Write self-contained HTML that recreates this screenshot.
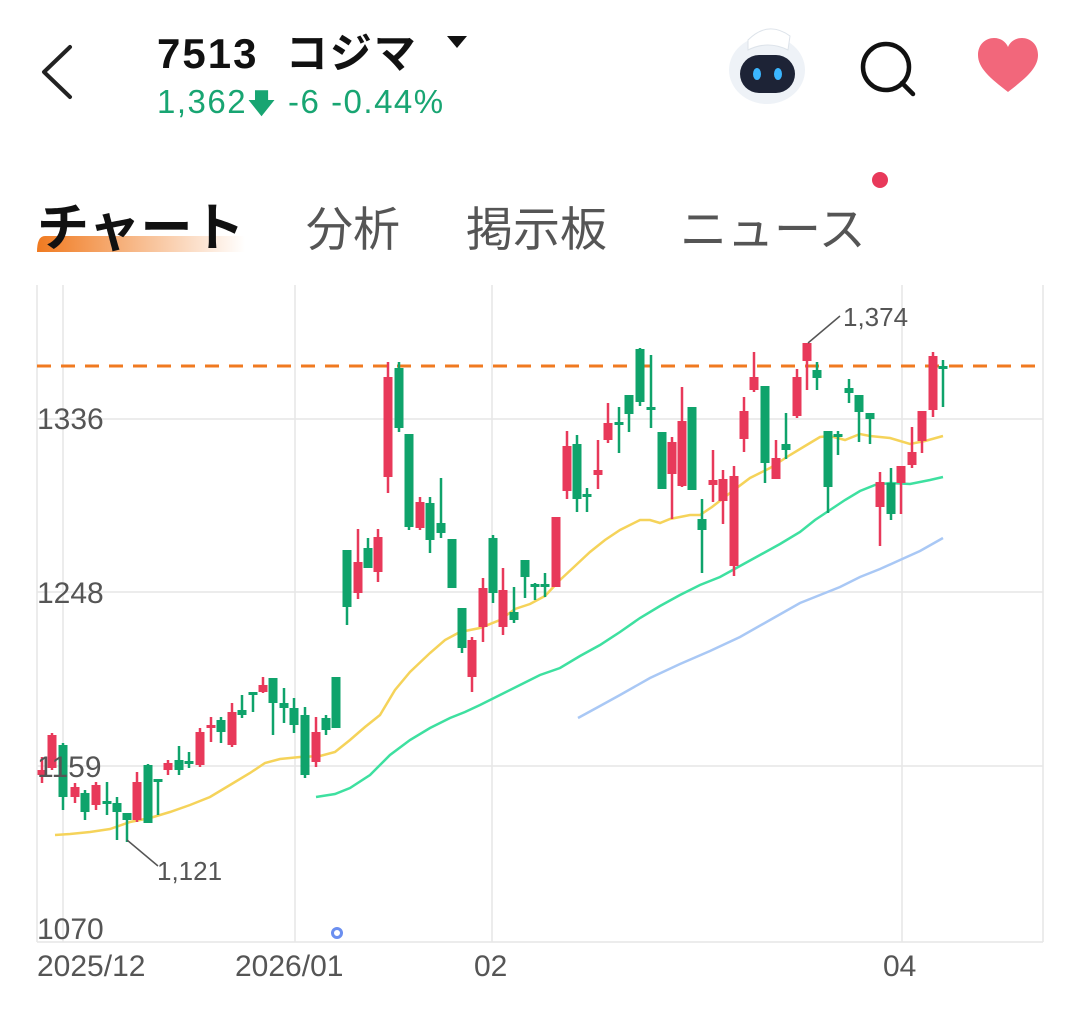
<!DOCTYPE html>
<html><head><meta charset="utf-8"><style>
html,body{margin:0;padding:0;background:#fff;}
body{width:1080px;height:1010px;overflow:hidden;position:relative;font-family:"Liberation Sans","Noto Sans CJK JP",sans-serif;}
.t{position:absolute;white-space:nowrap;}
</style></head><body>
<svg width="1080" height="1010" style="position:absolute;left:0;top:0">
<polyline points="70,47 44,72 70,97" fill="none" stroke="#222" stroke-width="4" stroke-linecap="round" stroke-linejoin="round"/>
<polygon points="447,36 467,36 457,48" fill="#111"/>
<g>
<ellipse cx="767" cy="70" rx="38" ry="34" fill="#eef2f7"/>
<path d="M748,40 Q768,20 790,36 L788,50 Q768,40 748,50Z" fill="#fff" stroke="#dde3ea"/>
<rect x="740" y="55" width="55" height="38" rx="19" fill="#1d2336"/>
<ellipse cx="757" cy="74" rx="4" ry="6" fill="#3bb6ff"/>
<ellipse cx="778" cy="74" rx="4" ry="6" fill="#3bb6ff"/>
</g>
<circle cx="886" cy="67" r="23" fill="none" stroke="#111" stroke-width="4.5"/>
<line x1="902" y1="83" x2="913" y2="94" stroke="#111" stroke-width="4.5" stroke-linecap="round"/>
<path d="M1008,92 C990,78 978,68 978,55 C978,44 986,38 994,38 C1001,38 1006,42 1008,47 C1010,42 1015,38 1022,38 C1030,38 1038,44 1038,55 C1038,68 1026,78 1008,92Z" fill="#f2677b"/>
<circle cx="880" cy="180" r="8" fill="#e8395a"/>
<defs><linearGradient id="ug" x1="0" x2="1"><stop offset="0" stop-color="#f07a20"/><stop offset="1" stop-color="#f07a20" stop-opacity="0"/></linearGradient></defs>
<path d="M45,236 L245,236 L245,252 L37,252 Q37,236 45,236Z" fill="url(#ug)"/>
<g stroke="#e6e6e6" stroke-width="1.5" fill="none">
<line x1="37" y1="285" x2="37" y2="942"/>
<line x1="1043" y1="285" x2="1043" y2="942"/>
<line x1="37" y1="942" x2="1043" y2="942"/>
<line x1="37" y1="419" x2="1043" y2="419"/>
<line x1="37" y1="592" x2="1043" y2="592"/>
<line x1="37" y1="766" x2="1043" y2="766"/>
<line x1="63" y1="285" x2="63" y2="942"/>
<line x1="295" y1="285" x2="295" y2="942"/>
<line x1="492" y1="285" x2="492" y2="942"/>
<line x1="902" y1="285" x2="902" y2="942"/>
</g>
<line x1="37" y1="366" x2="1043" y2="366" stroke="#f07a20" stroke-width="3" stroke-dasharray="14,10"/>
<polyline fill="none" stroke="#f5d35a" stroke-width="2.5" points="55,835 70,834 90,832 110,829 130,822 150,818 170,812 190,805 210,797 230,785 250,773 265,763 280,759 300,757 320,756 335,752 350,740 365,727 380,715 395,690 410,672 430,653 445,640 460,632 480,628 500,620 515,609 530,604 545,596 560,580 575,566 590,552 605,540 620,530 640,520 650,520 660,523 670,519 690,515 700,515 712,507 730,493 750,478 770,468 790,455 805,446 820,437 830,436 845,440 860,434 870,436 890,438 910,444 925,441 943,436"/>
<polyline fill="none" stroke="#3ee0a0" stroke-width="2.5" points="316,797 335,794 350,788 370,775 390,755 410,740 430,728 450,718 465,712 480,705 500,695 520,685 540,675 560,668 580,656 600,645 620,632 640,618 660,606 680,595 700,585 720,577 740,566 760,555 780,544 800,532 815,520 830,510 845,500 860,491 875,485 890,483 910,484 930,480 943,477"/>
<polyline fill="none" stroke="#a9c8f5" stroke-width="2.5" points="578,718 600,706 620,695 650,678 680,664 710,651 740,637 770,620 800,603 820,595 840,587 860,577 880,569 900,560 920,551 943,538"/>
<g id="c"></g>
<polyline points="808,343 840,316" fill="none" stroke="#555" stroke-width="1.5"/>
<polyline points="127,840 158,866" fill="none" stroke="#555" stroke-width="1.5"/>
<circle cx="337" cy="933" r="4.5" fill="#fff" stroke="#6b8ff0" stroke-width="3"/>
</svg>
<div class="t" style="left:157px;top:20px;font-size:42px;font-weight:bold;color:#111;letter-spacing:2px;">7513&nbsp; コジマ</div>
<div class="t" style="left:157px;top:83px;font-size:33px;color:#18a572;letter-spacing:1.5px;">1,362<span style="font-size:28px">🡇</span> -6 -0.44%</div>
<div class="t" style="left:37px;top:186px;font-size:52px;color:#111;font-weight:bold;">チャート</div>
<div class="t" style="left:306px;top:191px;font-size:47px;color:#555;">分析</div>
<div class="t" style="left:466px;top:191px;font-size:47px;color:#555;">掲示板</div>
<div class="t" style="left:680px;top:191px;font-size:47px;color:#555;">ニュース</div>
<div class="t" style="left:37px;top:403px;font-size:30px;color:#555;">1336</div>
<div class="t" style="left:37px;top:577px;font-size:30px;color:#555;">1248</div>
<div class="t" style="left:37px;top:751px;font-size:30px;color:#555;">1159</div>
<div class="t" style="left:37px;top:913px;font-size:30px;color:#555;">1070</div>
<div class="t" style="left:843px;top:302px;font-size:26px;color:#555;">1,374</div>
<div class="t" style="left:157px;top:856px;font-size:26px;color:#555;">1,121</div>
<div class="t" style="left:37px;top:950px;font-size:30px;color:#555;">2025/12</div>
<div class="t" style="left:235px;top:950px;font-size:30px;color:#555;">2026/01</div>
<div class="t" style="left:474px;top:950px;font-size:30px;color:#555;">02</div>
<div class="t" style="left:883px;top:950px;font-size:30px;color:#555;">04</div>
<script>
var R='#e8395a',G='#0fa36b';
var d=[[42,770,775,757,783,R],[52,735,768,733,770,R],[63,745,797,743,810,G],[75,787,797,783,803,R],[85,793,812,790,820,G],[96,785,805,782,810,R],[107,801,803,782,815,G],[117,803,812,797,840,G],[127,813,820,813,842,G],[137,782,820,772,822,R],[148,765,823,764,823,G],[158,779,781,779,815,G],[168,763,770,760,775,R],[179,760,770,746,775,G],[189,761,763,752,768,G],[200,732,765,728,767,R],[211,725,727,717,742,R],[221,720,732,717,743,G],[232,712,745,703,747,R],[242,710,715,695,718,G],[253,692,694,692,712,G],[263,685,692,677,693,R],[273,678,703,678,735,G],[284,703,708,688,723,G],[294,708,725,698,733,G],[305,715,775,707,778,G],[316,732,762,717,767,R],[326,718,730,715,735,G],[336,677,728,677,728,G],[347,550,607,550,625,G],[358,562,593,529,599,R],[368,548,568,538,568,G],[378,537,572,529,582,R],[388,377,477,362,493,R],[399,368,428,362,432,G],[409,434,527,434,530,G],[420,502,528,497,530,R],[430,503,540,497,553,G],[441,523,533,478,538,G],[452,539,588,539,588,G],[462,608,648,608,653,G],[472,640,677,637,692,R],[483,588,627,578,642,R],[493,538,593,535,603,G],[503,590,627,568,635,R],[514,612,620,587,623,G],[525,560,577,560,598,G],[535,584,586,583,600,G],[545,584,586,573,597,G],[556,517,587,517,587,R],[567,446,491,431,499,R],[577,444,499,435,512,G],[587,494,496,488,512,G],[598,470,475,440,489,R],[608,423,440,403,443,R],[619,422,424,407,453,G],[629,395,414,395,432,G],[640,349,402,348,406,G],[651,407,409,355,428,G],[662,432,489,432,489,G],[672,442,474,437,519,R],[682,421,486,387,487,R],[692,407,490,407,490,G],[702,519,530,499,573,G],[713,480,485,450,502,R],[723,479,501,470,524,R],[734,476,566,466,576,R],[744,411,439,397,452,R],[754,377,390,352,392,R],[765,386,463,386,483,G],[776,458,479,440,479,R],[786,444,450,413,459,G],[797,377,416,369,418,R],[807,343,361,343,390,R],[817,370,378,362,390,G],[828,431,487,431,513,G],[838,434,436,431,455,G],[849,388,393,379,403,G],[859,395,412,395,442,G],[870,413,419,413,444,G],[880,482,507,472,546,R],[891,483,514,468,520,G],[901,466,483,466,514,R],[912,452,465,427,468,R],[922,411,441,411,453,R],[933,356,410,352,417,R],[943,366,368,360,407,G]];
var s='';d.forEach(function(a){var h=Math.max(a[2]-a[1],3);s+='<line x1="'+a[0]+'" x2="'+a[0]+'" y1="'+a[3]+'" y2="'+a[4]+'" stroke="'+a[5]+'" stroke-width="2.5"/><rect x="'+(a[0]-4.5)+'" y="'+a[1]+'" width="9" height="'+h+'" fill="'+a[5]+'"/>';});
document.getElementById('c').innerHTML=s;
</script>
</body></html>
